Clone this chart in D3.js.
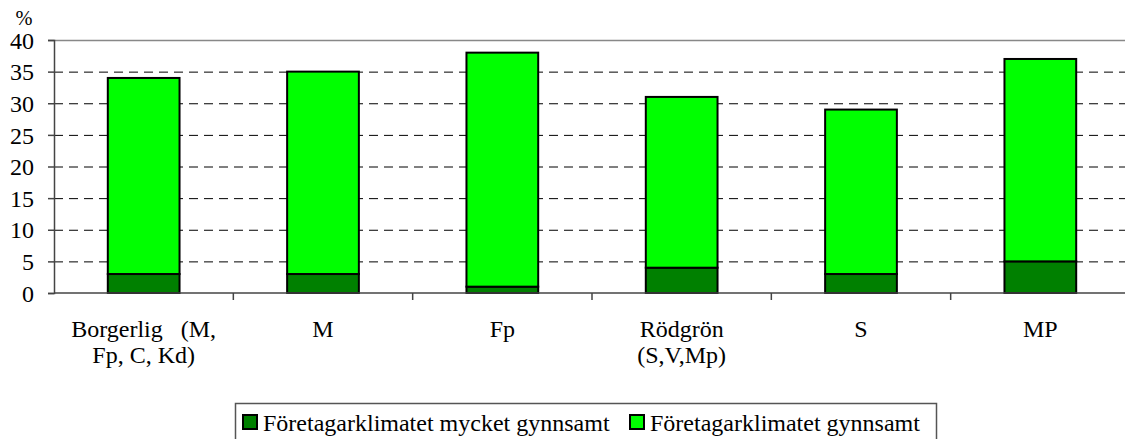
<!DOCTYPE html>
<html>
<head>
<meta charset="utf-8">
<script src="https://cdn.jsdelivr.net/npm/d3@7"></script>
<style>
  body { margin: 0; background: #fff; }
  svg text { font-family: "Liberation Serif", "Times New Roman", serif; fill: #000; }
</style>
</head>
<body>
<div id="chart"></div>
<script>
const width = 1125
const height = 439

// data
const kategorier = ["Borgerlig   (M,|Fp, C, Kd)", "M", "Fp", "Rödgrön|(S,V,Mp)", "S", "MP"]
const mycketGynnsamt = [3, 3, 1, 4, 3, 5]
const gynnsamt = [31, 32, 37, 27, 26, 32]
const serier = ["Företagarklimatet mycket gynnsamt", "Företagarklimatet gynnsamt"]
const farger = ["#008000", "#00ff00"]
const yTicks = [0, 5, 10, 15, 20, 25, 30, 35, 40]

const margin = {left: 54, top: 40, right: -5, bottom: 146}

const svg = d3.select("#chart").append("svg")
    .attr("width", width)
    .attr("height", height)

// pick a font size so the first legend entry spans about 354px, as in the original
const prov = svg.append("text").attr("font-size", 20).text(serier[0])
const provBredd = prov.node().getComputedTextLength()
prov.remove()
const fs = Math.max(16, Math.min(24, 20 * 354 / provBredd))

const x = d3.scaleBand()
    .domain(kategorier)
    .range([margin.left, width - margin.right])
    .paddingInner(0.6)
    .paddingOuter(0.3)

const y = d3.scaleLinear()
    .domain([0, 40])
    .range([height - margin.bottom, margin.top])

// gridlines
svg.append("g")
    .selectAll("line")
    .data(yTicks.filter(d => d > 0 && d < 40))
    .join("line")
    .attr("x1", margin.left)
    .attr("x2", width)
    .attr("y1", d => y(d) + 0.5)
    .attr("y2", d => y(d) + 0.5)
    .attr("stroke", "#000")
    .attr("stroke-width", 1)
    .attr("stroke-dasharray", "9,6")

svg.append("line")
    .attr("x1", margin.left).attr("x2", width)
    .attr("y1", y(40) + 0.5).attr("y2", y(40) + 0.5)
    .attr("stroke", "#888").attr("stroke-width", 1.5)

// stacked bars
const stapel = kategorier.map((k, i) => ({k, a: mycketGynnsamt[i], b: gynnsamt[i]}))
const stack = d3.stack().keys(["a", "b"])(stapel)

svg.append("g")
    .selectAll("g")
    .data(stack)
    .join("g")
    .attr("fill", (d, i) => farger[i])
    .selectAll("rect")
    .data(d => d)
    .join("rect")
    .attr("x", d => x(d.data.k))
    .attr("width", x.bandwidth())
    .attr("y", d => y(d[1]))
    .attr("height", d => y(d[0]) - y(d[1]))
    .attr("stroke", "#000")
    .attr("stroke-width", 2)

// y axis
const yAxis = svg.append("g")
    .attr("transform", `translate(${margin.left},0)`)
    .call(d3.axisLeft(y).tickValues(yTicks).tickSize(6).tickPadding(14))
yAxis.attr("font-family", null).attr("font-size", fs)
yAxis.select(".domain").attr("stroke", "#444").attr("stroke-width", 1.5)
yAxis.selectAll(".tick line").attr("stroke", "#444").attr("stroke-width", 1.5)
yAxis.selectAll(".tick text").attr("dy", "0.34em")

svg.append("text")
    .attr("x", 24)
    .attr("y", 25)
    .attr("text-anchor", "middle")
    .attr("font-size", fs * 0.85)
    .text("%")

svg.append("line")
    .attr("x1", margin.left).attr("x2", width)
    .attr("y1", y(0)).attr("y2", y(0))
    .attr("stroke", "#444").attr("stroke-width", 1.5)

svg.append("g")
    .selectAll("line")
    .data(kategorier.slice(1))
    .join("line")
    .attr("x1", d => x(d) - x.step() * x.paddingInner() / 2)
    .attr("x2", d => x(d) - x.step() * x.paddingInner() / 2)
    .attr("y1", y(0))
    .attr("y2", y(0) + 7)
    .attr("stroke", "#444").attr("stroke-width", 1.5)

// category labels
const etiketter = svg.append("g")
    .selectAll("text")
    .data(kategorier)
    .join("text")
    .attr("x", d => x(d) + x.bandwidth() / 2)
    .attr("y", 337)
    .attr("text-anchor", "middle")
    .attr("font-size", fs)
    .style("white-space", "pre")

etiketter.selectAll("tspan")
    .data(d => d.split("|"))
    .join("tspan")
    .attr("x", function() { return d3.select(this.parentNode).attr("x") })
    .attr("dy", (d, i) => i === 0 ? 0 : 26)
    .text(d => d)

// legend
const legend = svg.append("g")
legend.append("rect")
    .attr("x", 235.5).attr("y", 403.5)
    .attr("width", 701).attr("height", 50)
    .attr("fill", "#fff")
    .attr("stroke", "#555").attr("stroke-width", 1.5)

const posX = [243, 630]
serier.forEach((s, i) => {
    legend.append("rect")
        .attr("x", posX[i]).attr("y", 415)
        .attr("width", 14).attr("height", 14)
        .attr("fill", farger[i])
        .attr("stroke", "#000").attr("stroke-width", 2)
    legend.append("text")
        .attr("x", posX[i] + 20).attr("y", 431)
        .attr("font-size", fs)
        .text(s)
})
</script>
</body>
</html>
